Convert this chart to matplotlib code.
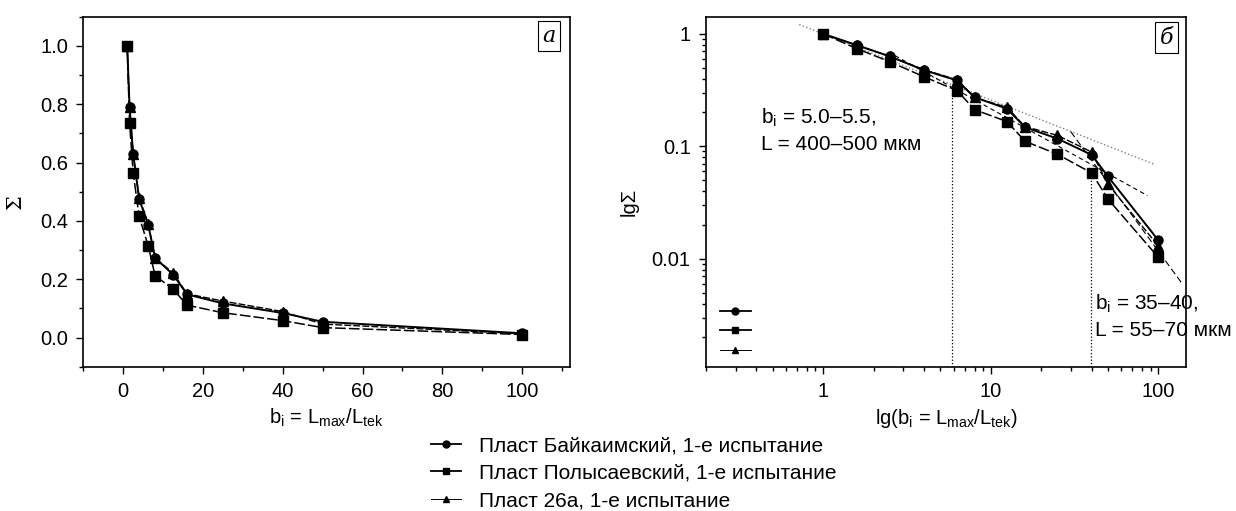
import numpy as np
import matplotlib
matplotlib.use('Agg')
import matplotlib.pyplot as plt
from matplotlib.lines import Line2D
from matplotlib.ticker import MultipleLocator, LogLocator, FuncFormatter, NullFormatter

plt.rcParams['font.family'] = ['Liberation Sans', 'DejaVu Sans']
plt.rcParams['mathtext.fontset'] = 'custom'
plt.rcParams['mathtext.rm'] = 'Liberation Sans'
plt.rcParams['mathtext.default'] = 'regular'

# b_i = L_max / L_tek
b = [1, 1.6, 2.5, 4, 6.3, 8, 12.5, 16, 25, 40, 50, 100]

# Sigma values for the three seams
sigma_baikaim = [1.0, 0.79, 0.63, 0.475, 0.385, 0.273, 0.216, 0.148, 0.117, 0.084, 0.054, 0.0146]
sigma_polysaev = [1.0, 0.735, 0.565, 0.415, 0.313, 0.212, 0.166, 0.111, 0.085, 0.058, 0.034, 0.0103]
sigma_26a = [1.0, 0.79, 0.63, 0.48, 0.39, 0.272, 0.222, 0.15, 0.125, 0.089, 0.046, 0.013]

labels = ['Пласт Байкаимский, 1-е испытание',
          'Пласт Полысаевский, 1-е испытание',
          'Пласт 26а, 1-е испытание']

# approximation lines on the log-log panel (end points)
fit1_x = [0.72, 95]
fit1_y = [1.21, 0.069]
fit2_x = [2.45, 86]
fit2_y = [0.69, 0.0365]
fit3_x = [30, 140]
fit3_y = [0.135, 0.0059]

# break points
break_x = [5.85, 39.5]
break_top = [0.30, 0.055]

note1 = '$b_i$ = 5.0–5.5,\nL = 400–500 мкм'
note2 = '$b_i$ = 35–40,\nL = 55–70 мкм'

styles = [dict(marker='o', ls='-', lw=1.4, ms=6.5),
          dict(marker='s', ls=(0, (7, 2)), lw=1.1, ms=6.5),
          dict(marker='^', ls=(0, (5, 1.5)), lw=1.0, ms=7)]
series = [sigma_baikaim, sigma_polysaev, sigma_26a]

fig = plt.figure(figsize=(12.36, 5.11), dpi=100)
ax1 = fig.add_axes([0.0674, 0.2824, 0.3937, 0.6849])
ax2 = fig.add_axes([0.5712, 0.2824, 0.3883, 0.6849])

# ---- panel a ----
for s, st in zip(series, styles):
    ax1.plot(b, s, color='black', **st)
ax1.set_xlim(-10, 112)
ax1.set_ylim(-0.1, 1.1)
ax1.xaxis.set_major_locator(MultipleLocator(20))
ax1.xaxis.set_minor_locator(MultipleLocator(10))
ax1.yaxis.set_major_locator(MultipleLocator(0.2))
ax1.yaxis.set_minor_locator(MultipleLocator(0.1))
ax1.yaxis.set_major_formatter(FuncFormatter(lambda v, p: f'{v:.1f}'))
ax1.set_xlabel('$b_i$ = $L_{max}$/$L_{tek}$', fontsize=14.5, labelpad=4)
ax1.set_ylabel('Σ', fontsize=15, family='DejaVu Serif')
ax1.yaxis.set_label_coords(-0.12, 0.47)
ax1.text(0.957, 0.945, 'а', transform=ax1.transAxes, ha='center', va='center',
         fontsize=16, family='DejaVu Serif', style='italic',
         bbox=dict(boxstyle='square,pad=0.2', fc='white', ec='black', lw=0.8))

# ---- panel b ----
ax2.plot(fit1_x, fit1_y, color='0.5', ls=':', lw=1.0, zorder=1)
ax2.plot(fit2_x, fit2_y, color='black', ls=(0, (4, 3)), lw=0.8, zorder=1)
ax2.plot(fit3_x, fit3_y, color='black', ls=(0, (6, 3)), lw=0.8, zorder=1)
for bx, top in zip(break_x, break_top):
    ax2.plot([bx, bx], [0.0011, top], color='black', ls=':', lw=0.9, zorder=1)
for s, st in zip(series, styles):
    ax2.plot(b, s, color='black', zorder=3, **st)
ax2.set_xscale('log')
ax2.set_yscale('log')
ax2.set_xlim(0.2, 146)
ax2.set_ylim(0.0011, 1.42)
fmt = FuncFormatter(lambda v, p: f'{v:g}')
ax2.xaxis.set_major_formatter(fmt)
ax2.yaxis.set_major_formatter(fmt)
ax2.xaxis.set_minor_locator(LogLocator(base=10, subs=np.arange(2, 10)))
ax2.yaxis.set_minor_locator(LogLocator(base=10, subs=np.arange(2, 10)))
ax2.xaxis.set_minor_formatter(NullFormatter())
ax2.yaxis.set_minor_formatter(NullFormatter())
ax2.set_xlabel('lg($b_i$ = $L_{max}$/$L_{tek}$)', fontsize=14.5, labelpad=4)
ax2.set_ylabel('lgΣ', fontsize=14.5)
ax2.yaxis.set_label_coords(-0.14, 0.47)
ax2.text(0.115, 0.675, note1, transform=ax2.transAxes, fontsize=15,
         ha='left', va='center', linespacing=1.4)
ax2.text(0.81, 0.145, note2, transform=ax2.transAxes, fontsize=15,
         ha='left', va='center', linespacing=1.4, clip_on=False)
ax2.text(0.96, 0.94, 'б', transform=ax2.transAxes, ha='center', va='center',
         fontsize=16, family='DejaVu Serif', style='italic',
         bbox=dict(boxstyle='square,pad=0.2', fc='white', ec='black', lw=0.8))

small = [Line2D([], [], color='black', marker=st['marker'], ls='-',
                lw=1.3 if i < 2 else 0.7, ms=5) for i, st in enumerate(styles)]
ax2.legend(small, ['', '', ''], loc='lower left', bbox_to_anchor=(0.005, -0.005),
           frameon=False, fontsize=9, handlelength=2.5, labelspacing=0.6,
           handletextpad=0)

for ax in (ax1, ax2):
    ax.tick_params(which='both', direction='out', top=False, right=False,
                   labelsize=14.5, width=1.0)
    ax.tick_params(which='major', length=5, pad=6)
    ax.tick_params(which='minor', length=3)
    for sp in ax.spines.values():
        sp.set_linewidth(1.2)

fig.legend(small, labels, loc='upper left', bbox_to_anchor=(0.349, 0.146),
           frameon=False, fontsize=15, handlelength=1.4, handletextpad=0.9,
           labelspacing=0.4, borderpad=0, borderaxespad=0)

fig.savefig('out.png', dpi=100)
